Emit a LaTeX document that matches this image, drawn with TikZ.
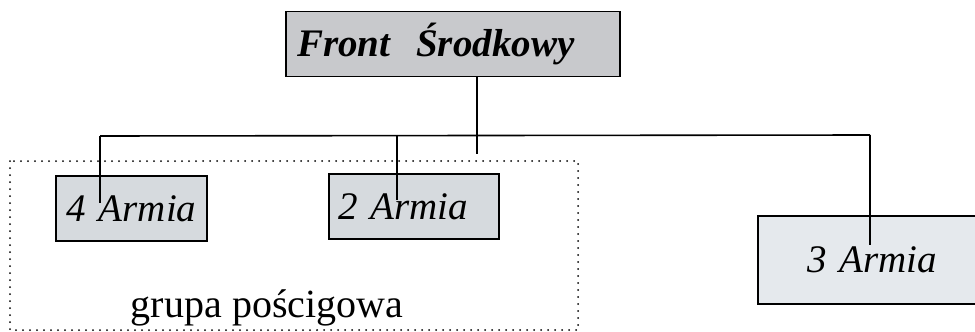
\documentclass[tikz,border=0pt]{standalone}
\usepackage{fontspec}
\setmainfont{Liberation Serif}
\begin{document}
\begin{tikzpicture}[x=1pt,y=-1pt,
  box/.style={draw=black, line width=1.6pt, rectangle, inner sep=0pt, align=left},
  link/.style={draw=black, line width=1.6pt},
  armtext/.style={font=\fontsize{39}{40}\selectfont\itshape}]
\useasboundingbox (0,0) rectangle (975,332);
% Front
\node[box, fill={rgb,255:red,200;green,201;blue,204}, minimum width=334pt, minimum height=65pt,
  text width=312pt, font=\fontsize{39}{40}\selectfont\bfseries\itshape] (front) at (453,44) {Front~~Środkowy};
% armies
\node[box, fill={rgb,255:red,214;green,218;blue,222}, minimum width=151pt, minimum height=65pt,
  text width=130pt, armtext] (a4) at (131.5,208.5) {4~Armia};
\node[box, fill={rgb,255:red,214;green,218;blue,222}, minimum width=170pt, minimum height=65pt,
  text width=152pt, armtext] (a2) at (414,206.5) {2~Armia};
\node[box, fill={rgb,255:red,229;green,233;blue,237}, minimum width=220pt, minimum height=88pt,
  text width=122pt, armtext] (a3) at (868,260) {3~Armia};
% group
\node[font=\fontsize{40}{42}\selectfont, anchor=base] (grupa) at (267,317) {grupa pościgowa};
\draw[line width=2pt, line cap=round, dash pattern=on 0pt off 7pt] (10,161) rectangle (578,330);
% connectors
\coordinate (stub) at (477,154);
\coordinate (busL) at (100,136);
\coordinate (busR) at (870,135);
\coordinate (d4) at (100,203);
\coordinate (d2) at (397,200);
\coordinate (d3) at (870,245);
\draw[link] (front.south -| stub) -- (stub);
\draw[link] (busL) -- (busR);
\draw[link] (busL) -- (d4);
\draw[link] (d2 |- busL) -- (d2);
\draw[link] (busR) -- (d3);
\end{tikzpicture}
\end{document}
